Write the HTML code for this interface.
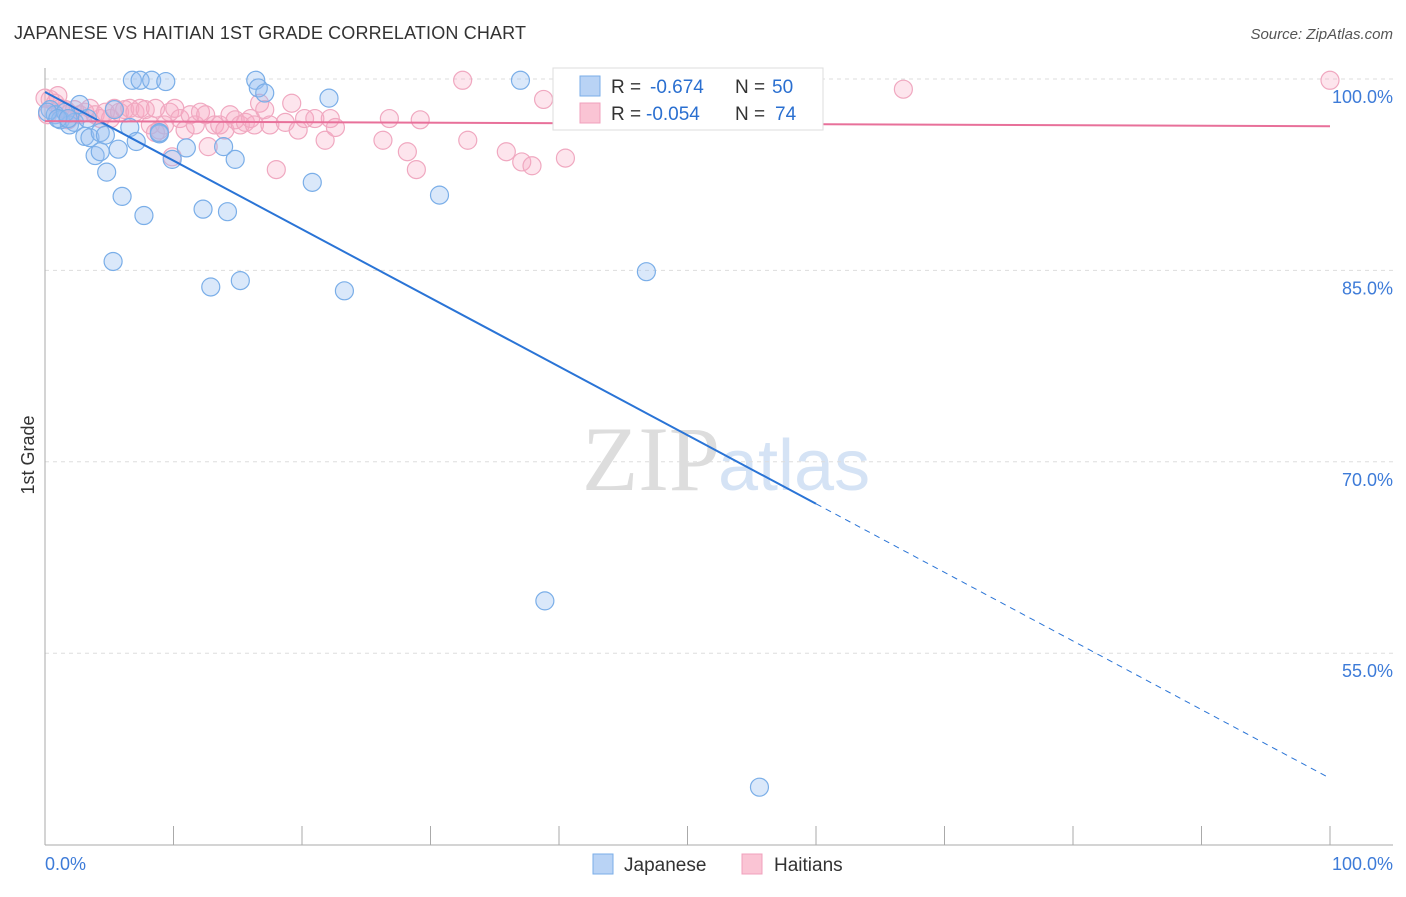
<!DOCTYPE html>
<html><head><meta charset="utf-8"><style>
body{margin:0;background:#fff;font-family:"Liberation Sans",sans-serif;}
svg text{font-family:"Liberation Sans",sans-serif;}
</style></head><body>
<svg id="chart" width="1406" height="892">
<text x="14" y="39" font-size="18" fill="#333" textLength="512">JAPANESE VS HAITIAN 1ST GRADE CORRELATION CHART</text>
<text x="1393" y="39" font-size="15" fill="#555" font-style="italic" text-anchor="end">Source: ZipAtlas.com</text>
<text x="720" y="490" font-size="92" fill="#ddd" text-anchor="end" style="font-family:'Liberation Serif',serif">ZIP</text>
<text x="718" y="490" font-size="72" fill="#d5e3f5">atlas</text>
<g id="grid"></g><g id="axes"></g><g id="pts"></g><g id="lines"></g>
<text transform="translate(34,455) rotate(-90)" font-size="18" fill="#333" text-anchor="middle">1st Grade</text>
<g>
<rect x="553" y="68" width="270" height="62" fill="#fff" stroke="#ddd"/>
<rect x="580" y="76" width="20" height="20" fill="#b9d3f5" stroke="#7aaee8"/>
<rect x="580" y="103" width="20" height="20" fill="#fac4d4" stroke="#f0a0bc"/>
<text x="611" y="93" font-size="19" fill="#333">R =</text>
<text x="650" y="93" font-size="19" fill="#2a6fd0">-0.674</text>
<text x="735" y="93" font-size="19" fill="#333">N =</text>
<text x="772" y="93" font-size="19" fill="#2a6fd0">50</text>
<text x="611" y="120" font-size="19" fill="#333">R =</text>
<text x="646" y="120" font-size="19" fill="#2a6fd0">-0.054</text>
<text x="735" y="120" font-size="19" fill="#333">N =</text>
<text x="775" y="120" font-size="19" fill="#2a6fd0">74</text>
</g>
<g>
<rect x="593" y="854" width="20" height="20" fill="#b9d3f5" stroke="#7aaee8"/>
<text x="624" y="871" font-size="19" fill="#333">Japanese</text>
<rect x="742" y="854" width="20" height="20" fill="#fac4d4" stroke="#f0a0bc"/>
<text x="774" y="871" font-size="19" fill="#333">Haitians</text>
</g>
</svg>
<script>
const jpX=[6.8,7.4,8.3,9.4,16.4,37.0,16.6,17.1,22.1,2.7,0.4,0.8,1.2,1.9,2.3,3.1,3.5,4.3,4.7,6.6,7.1,5.7,3.9,4.3,4.8,6.0,7.7,8.9,8.9,9.9,11.0,13.9,14.8,12.3,14.2,20.8,30.7,5.3,12.9,15.2,23.3,46.8,38.9,55.6,5.4,1.6,0.2,1.0,3.3,1.8];
const jpY=[99.9,99.9,99.9,99.8,99.9,99.9,99.3,98.9,98.5,98.0,97.6,97.2,96.8,96.4,96.6,95.5,95.4,95.8,95.6,96.2,95.1,94.5,94.0,94.3,92.7,90.8,89.3,95.7,95.8,93.7,94.6,94.7,93.7,89.8,89.6,91.9,90.9,85.7,83.7,84.2,83.4,84.9,59.1,44.5,97.6,97.4,97.4,96.9,96.9,96.9];
const htX=[0,0.4,0.8,1.2,1.6,1.9,2.3,2.7,3.1,3.5,3.9,4.3,4.7,5.1,5.4,5.8,6.2,6.6,7.0,7.4,7.8,8.2,8.6,8.9,9.3,9.7,10.1,10.5,10.9,11.3,11.7,12.1,12.5,12.7,13.2,13.6,14.0,14.4,14.8,15.2,15.6,16.0,16.3,16.7,17.1,17.5,18.0,18.7,19.2,19.7,20.2,21.0,21.8,22.2,22.6,26.3,26.8,28.2,28.9,29.2,32.5,32.9,35.9,37.1,37.9,38.8,40.5,66.8,100,9.9,8.6,0.2,1.0,1.8];
const htY=[98.5,98.4,98.1,97.7,97.6,97.3,97.6,97.2,97.4,97.7,97.2,96.9,97.4,96.9,97.7,97.4,97.6,97.7,97.4,97.7,97.6,96.4,97.7,96.0,96.4,97.4,97.7,96.9,96.0,97.2,96.4,97.4,97.2,94.7,96.4,96.4,96.0,97.2,96.8,96.4,96.6,96.9,96.4,98.1,97.6,96.4,92.9,96.6,98.1,96.0,96.9,96.9,95.2,96.9,96.2,95.2,96.9,94.3,92.9,96.8,99.9,95.2,94.3,93.5,93.2,98.4,93.8,99.2,99.9,93.9,95.8,97.2,98.7,96.8];
const yTicks=[100,85,70,55];
const jpLine=[98.98,45.2], htLine=[96.7,96.3];
const X=v=>45+v*12.85, Y=v=>79+(100-v)*12.76;
const NS='http://www.w3.org/2000/svg';
function mk(t,a,p){const e=document.createElementNS(NS,t);for(const k in a)e.setAttribute(k,a[k]);p.appendChild(e);return e;}
const grid=document.getElementById('grid'),axes=document.getElementById('axes'),pts=document.getElementById('pts'),lines=document.getElementById('lines');
yTicks.forEach(t=>{const g=mk('line',{x1:45,x2:1393,y1:Y(t),y2:Y(t),stroke:'#ddd','stroke-dasharray':'4,4'},grid);


const l=mk('text',{x:1393,y:Y(t)+24,'font-size':18,fill:'#3d7bd8','text-anchor':'end'},axes);l.textContent=t.toFixed(1)+'%';

});
mk('line',{x1:45,x2:45,y1:68,y2:845,stroke:'#aaa'},axes);
mk('line',{x1:45,x2:1393,y1:845,y2:845,stroke:'#aaa'},axes);
for(let i=0;i<=10;i++){mk('line',{x1:X(i*10),x2:X(i*10),y1:826,y2:845,stroke:'#aaa'},axes);}
let t0=mk('text',{x:45,y:870,'font-size':18,fill:'#3d7bd8'},axes);t0.textContent='0.0%';


let t1=mk('text',{x:1393,y:870,'font-size':18,fill:'#3d7bd8','text-anchor':'end'},axes);t1.textContent='100.0%';


htX.forEach((x,i)=>{const c=mk('circle',{cx:X(x),cy:Y(htY[i]),r:9,fill:'rgba(248,170,195,0.3)',stroke:'#f0a8c0','stroke-width':1.2},pts);

});
jpX.forEach((x,i)=>{const c=mk('circle',{cx:X(x),cy:Y(jpY[i]),r:9,fill:'rgba(150,190,240,0.35)',stroke:'#7aaee8','stroke-width':1.2},pts);

});
const jy=x=>jpLine[0]+(jpLine[1]-jpLine[0])*x/100;
let a=mk('line',{x1:X(0),y1:Y(jy(0)),x2:X(60),y2:Y(jy(60)),stroke:'#2a74d6','stroke-width':2},lines);


let b=mk('line',{x1:X(60),y1:Y(jy(60)),x2:X(100),y2:Y(jy(100)),stroke:'#2a74d6','stroke-width':1,'stroke-dasharray':'6,5'},lines);


let c=mk('line',{x1:X(0),y1:Y(htLine[0]),x2:X(100),y2:Y(htLine[1]),stroke:'#e8709a','stroke-width':2},lines);


</script>
</body></html>
